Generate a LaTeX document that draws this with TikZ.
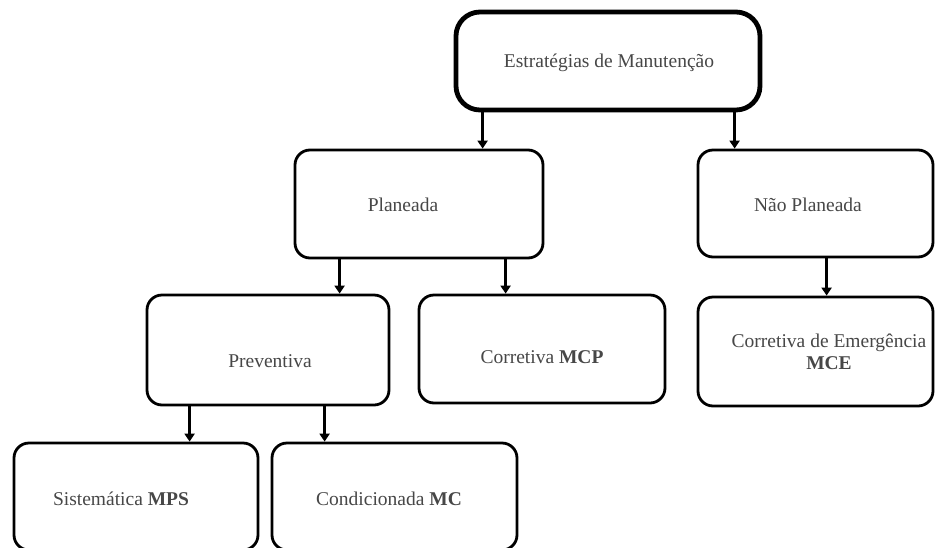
\documentclass[tikz,border=0pt]{standalone}
\usepackage{fontspec}
\setmainfont{Liberation Serif}
\usetikzlibrary{arrows.meta,calc}
\begin{document}
\begin{tikzpicture}[x=1pt,y=-1pt,
  box/.style={draw=black, line width=2.8pt, rounded corners=15pt, fill=white,
    inner sep=0pt, minimum width=#1},
  rootbox/.style={box=304pt, line width=4.8pt, rounded corners=24pt, minimum height=98pt},
  lbl/.style={text=black!72, font=\fontsize{19.5}{22}\selectfont, inner sep=0pt, align=center},
  arr/.style={line width=2.8pt, -{Triangle[width=10pt,length=8pt]}}]
  \clip (0,0) rectangle (935,547);
  \fill[white] (0,0) rectangle (935,547);

  % boxes
  \node[rootbox] (top) at (608,61) {};
  \node[box=248pt, minimum height=108pt] (plan)  at (419,204) {};
  \node[box=235pt, minimum height=107pt] (nplan) at (815.5,203.5) {};
  \node[box=242pt, minimum height=110pt] (prev)  at (268,350) {};
  \node[box=246pt, minimum height=108pt] (cmcp)  at (542,349) {};
  \node[box=235pt, minimum height=109pt] (mce)   at (815.5,351.5) {};
  \node[box=244pt, minimum height=107pt] (mps)   at (136,496.5) {};
  \node[box=245pt, minimum height=107pt] (mc)    at (394.5,496.5) {};

  % labels
  \node[lbl] (topT)   at (609,63)  {Estratégias de Manutenção};
  \node[lbl] (planT)  at (403,205) {Planeada};
  \node[lbl] (nplanT) at (808,205) {Não Planeada};
  \node[lbl] (prevT)  at (270,361) {Preventiva};
  \node[lbl] (cmcpT)  at (542,357) {Corretiva \textbf{MCP}};
  \node[lbl] (mceT)   at (829,352) {Corretiva de Emergência\\\textbf{MCE}};
  \node[lbl] (mpsT)   at (121,499) {Sistemática \textbf{MPS}};
  \node[lbl] (mcT)    at (389,499) {Condicionada \textbf{MC}};

  % connectors
  \draw[arr] ([xshift=29pt]top.south west)  -- ([xshift=29pt]top.south west |- plan.north);
  \draw[arr] ([xshift=281pt]top.south west) -- ([xshift=281pt]top.south west |- nplan.north);
  \draw[arr] ([xshift=46pt]plan.south west)  -- ([xshift=46pt]plan.south west |- prev.north);
  \draw[arr] ([xshift=212pt]plan.south west) -- ([xshift=212pt]plan.south west |- cmcp.north);
  \draw[arr] ([xshift=130pt]nplan.south west) -- ([xshift=130pt]nplan.south west |- mce.north);
  \draw[arr] ([xshift=44pt]prev.south west)  -- ([xshift=44pt]prev.south west |- mps.north);
  \draw[arr] ([xshift=179pt]prev.south west) -- ([xshift=179pt]prev.south west |- mc.north);
\end{tikzpicture}
\end{document}
